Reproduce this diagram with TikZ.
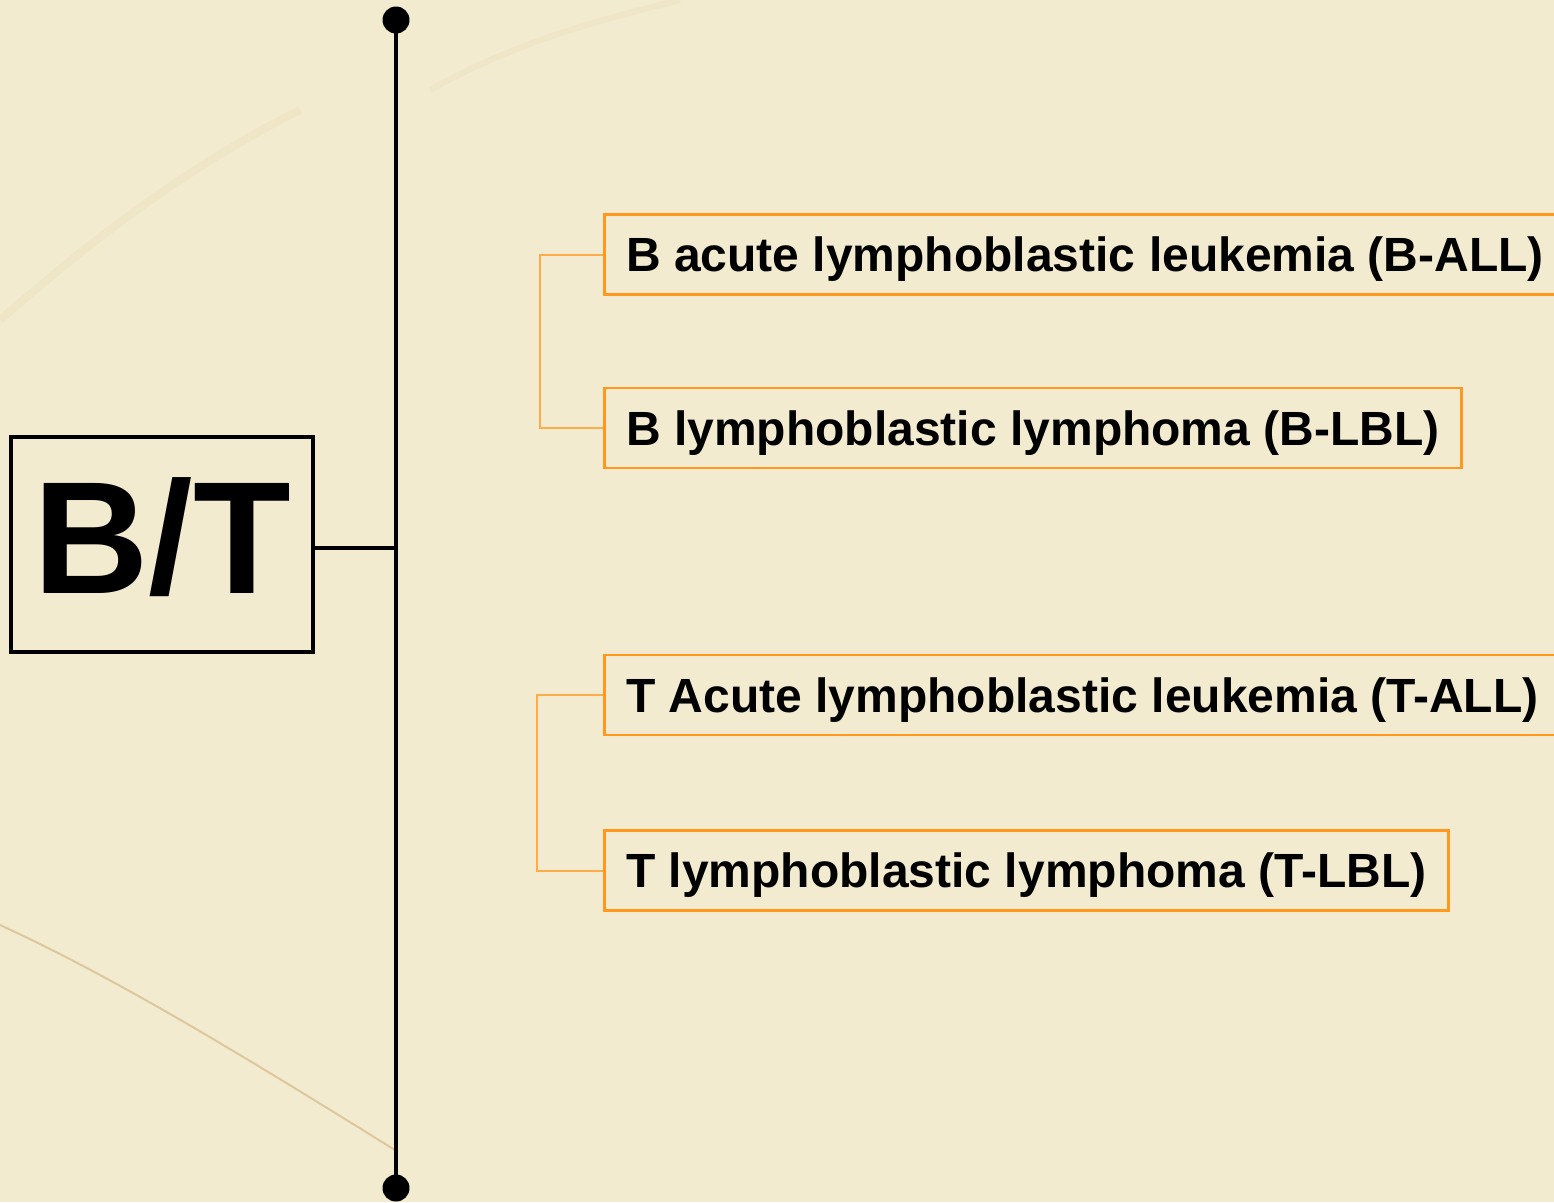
\documentclass[tikz,border=0pt]{standalone}
\usepackage{fontspec}
\setmainfont{Liberation Sans}
\definecolor{paper}{RGB}{243,235,207}
\definecolor{streak}{RGB}{200,165,110}
\definecolor{boxorange}{RGB}{255,152,28}
\definecolor{linkorange}{RGB}{255,172,72}
\begin{document}
\begin{tikzpicture}[x=1pt,y=-1pt,
  itembox/.style={draw=boxorange,line width=2.5pt,anchor=west,inner xsep=22pt,inner ysep=0pt,
    minimum height=80pt,text height=36pt,text depth=2pt,
    font=\fontsize{48}{58}\selectfont\bfseries},
  link/.style={draw=linkorange,line width=2pt},
  spine/.style={draw=black,line width=3.6pt},
  dot/.style={circle,fill=black,inner sep=0pt,minimum size=27pt}]
% background
\fill[paper] (0,0) rectangle (1554,1202);
\useasboundingbox (0,0) rectangle (1554,1202);
\draw[streak,opacity=0.5,line width=2pt] (0,925) .. controls (120,980) and (250,1060) .. (395,1150);
\draw[streak,opacity=0.08,line width=8pt] (0,320) .. controls (80,250) and (180,170) .. (300,110);
\draw[streak,opacity=0.07,line width=6pt] (430,90) .. controls (520,40) and (600,20) .. (680,0);
% spine
\node[dot] (top) at (396,20) {};
\node[dot] (bot) at (396,1188) {};
\draw[spine] (top.center) -- (bot.center);
% B/T box
\node[draw=black,line width=3.2pt,minimum width=302pt,minimum height=215pt,inner sep=0pt,
  text depth=17pt,font=\fontsize{160}{170}\selectfont\bfseries] (bt) at (162,544.5) {B/T};
\coordinate (btj) at ([yshift=-3.5pt]bt.east);
\draw[spine,line width=3.2pt] (btj) -- (btj -| top);
% items
\node[itembox] (ball) at (603,254.5) {B acute lymphoblastic leukemia (B-ALL)};
\node[itembox] (blbl) at (603,428) {B lymphoblastic lymphoma (B-LBL)};
\node[itembox] (tall) at (603,695) {T Acute lymphoblastic leukemia (T-ALL)};
\node[itembox] (tlbl) at (603,870.5) {T lymphoblastic lymphoma (T-LBL)};
% brackets
\coordinate (bk1) at (540,254.5);
\coordinate (bk2) at (537,695);
\draw[link] (ball.west) -- (bk1) |- (blbl.west);
\draw[link] (tall.west) -- (bk2) |- (tlbl.west);
\end{tikzpicture}
\end{document}
